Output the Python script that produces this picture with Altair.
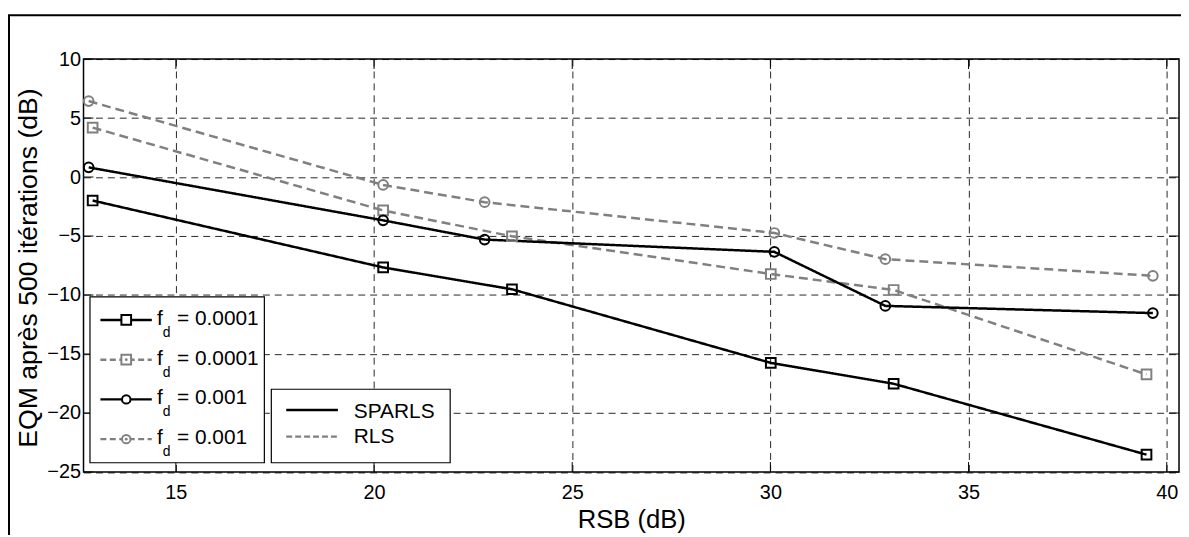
import altair as alt
import pandas as pd

# ---------------- data ----------------
x_circle = [12.80, 20.23, 22.79, 30.10, 32.90, 39.65]
x_square = [12.90, 20.23, 23.48, 30.01, 33.11, 39.49]
sparls_fd0001 = [-1.99, -7.66, -9.51, -15.75, -17.52, -23.53]
rls_fd0001 = [4.19, -2.83, -5.02, -8.22, -9.57, -16.73]
sparls_fd001 = [0.82, -3.67, -5.30, -6.34, -10.92, -11.53]
rls_fd001 = [6.44, -0.67, -2.13, -4.74, -6.96, -8.37]

series_names = ["SPARLS fd=0.0001", "RLS fd=0.0001", "SPARLS fd=0.001", "RLS fd=0.001"]
legend1_labels = ["= 0.0001", "= 0.0001", "= 0.001", "= 0.001"]
legend2_labels = ["SPARLS", "RLS"]
x_ticks = [15, 20, 25, 30, 35, 40]
y_ticks = [-25, -20, -15, -10, -5, 0, 5, 10]

# ---------------- styles ----------------
FONT = "Liberation Sans"
GREY = "#808080"
colors = ["black", GREY, "black", GREY]
dashes = [[1, 0], [9, 5], [1, 0], [9, 5]]
shapes = ["square", "square", "circle", "circle"]
sizes = [95, 95, 72, 72]

W, H = 1102.5, 415.6
PAD_L, PAD_T = 76, 49.7

rows = []
for name, xs, ys in [
    (series_names[0], x_square, sparls_fd0001),
    (series_names[1], x_square, rls_fd0001),
    (series_names[2], x_circle, sparls_fd001),
    (series_names[3], x_circle, rls_fd001),
]:
    for i, (xv, yv) in enumerate(zip(xs, ys)):
        rows.append({"series": name, "x": xv, "y": yv, "i": i})
df = pd.DataFrame(rows)

xscale = alt.Scale(domain=[12.67, 40.31], nice=False, zero=False)
yscale = alt.Scale(domain=[-25, 10], nice=False, zero=False)

color_enc = alt.Color("series:N", scale=alt.Scale(domain=series_names, range=colors), legend=None)
dash_enc = alt.StrokeDash("series:N", scale=alt.Scale(domain=series_names, range=dashes), legend=None)

base = alt.Chart(df)

lines = base.mark_line(strokeWidth=2.5).encode(
    x=alt.X("x:Q", scale=xscale,
            axis=alt.Axis(values=x_ticks, title="RSB (dB)", titleX=W / 2, titleY=56,
                          titleBaseline="alphabetic", titleAlign="center", titleFontSize=25.8,
                          labelPadding=11, format="d")),
    y=alt.Y("y:Q", scale=yscale,
            axis=alt.Axis(values=y_ticks, title="EQM après 500 itérations (dB)",
                          titleAngle=270, titleX=-47, titleY=H / 2 + 2,
                          titleBaseline="alphabetic", titleAlign="center", titleFontSize=26.8,
                          labelPadding=3, format="d")),
    color=color_enc,
    strokeDash=dash_enc,
    detail="series:N",
    order="i:Q",
)

points = base.mark_point(filled=False, strokeWidth=2, opacity=1).encode(
    x=alt.X("x:Q", scale=xscale),
    y=alt.Y("y:Q", scale=yscale),
    color=color_enc,
    shape=alt.Shape("series:N", scale=alt.Scale(domain=series_names, range=shapes), legend=None),
    size=alt.Size("series:N", scale=alt.Scale(domain=series_names, range=sizes), legend=None),
)

# inward ticks on all four sides
xt = pd.DataFrame({"t": x_ticks})
yt = pd.DataFrame({"t": y_ticks})
TL = 10
tick_layers = [
    alt.Chart(xt).mark_rule(color="black", strokeWidth=1).encode(
        x=alt.X("t:Q", scale=xscale), y=alt.value(H), y2=alt.value(H - TL)),
    alt.Chart(xt).mark_rule(color="black", strokeWidth=1).encode(
        x=alt.X("t:Q", scale=xscale), y=alt.value(0), y2=alt.value(TL)),
    alt.Chart(yt).mark_rule(color="black", strokeWidth=1).encode(
        y=alt.Y("t:Q", scale=yscale), x=alt.value(0), x2=alt.value(TL)),
    alt.Chart(yt).mark_rule(color="black", strokeWidth=1).encode(
        y=alt.Y("t:Q", scale=yscale), x=alt.value(W - TL), x2=alt.value(W)),
]

one = pd.DataFrame({"k": [0]})


def rect(x1, x2, y1, y2):
    return alt.Chart(one).mark_rect(fill="white", stroke="black", strokeWidth=1.2).encode(
        x=alt.value(x1), x2=alt.value(x2), y=alt.value(y1), y2=alt.value(y2))


def hline(x1, x2, y, color, width, dash):
    return alt.Chart(one).mark_rule(color=color, strokeWidth=width, strokeDash=dash).encode(
        x=alt.value(x1), x2=alt.value(x2), y=alt.value(y))


def txt(x, y, s, size):
    return alt.Chart(one).mark_text(align="left", baseline="alphabetic", font=FONT,
                                    fontSize=size, color="black").encode(
        x=alt.value(x), y=alt.value(y), text=alt.value(s))


def marker(x, y, shape, color, size, fill):
    return alt.Chart(one).mark_point(shape=shape, filled=False, stroke=color, strokeWidth=2,
                                     fill=fill, fillOpacity=1, size=size, opacity=1).encode(
        x=alt.value(x), y=alt.value(y))


legend_layers = []
# legend 1 (markers + f_d)
legend_layers.append(rect(6.5, 182, 239.3, 406.3))
for k in range(4):
    ry = 262.5 + 40 * k
    legend_layers.append(hline(17, 68.7, ry, colors[k], 2.5, [1, 0] if colors[k] == "black" else [6, 3.5]))
    legend_layers.append(marker(43, ry, shapes[k], colors[k], sizes[k], "white"))
    if colors[k] != "black":
        legend_layers.append(alt.Chart(one).mark_point(shape="circle", filled=True, color=GREY,
                                                       size=8, opacity=1).encode(
            x=alt.value(43), y=alt.value(ry)))
    legend_layers.append(txt(74, ry + 5, "f", 21))
    legend_layers.append(txt(79.8, ry + 17, "d", 14))
    legend_layers.append(txt(94, ry + 5, legend1_labels[k], 21))

# legend 2 (line styles)
legend_layers.append(rect(189, 369, 332.3, 406.3))
legend_layers.append(hline(204, 256, 353.3, "black", 2.5, [1, 0]))
legend_layers.append(hline(204, 256, 380, GREY, 2.2, [6, 3]))
legend_layers.append(txt(272, 361.6, legend2_labels[0], 21))
legend_layers.append(txt(272, 386.3, legend2_labels[1], 21))

# outer figure frame (top and left edges visible in the reference)
frame = [
    hline(-PAD_L, W + 10, -44, "black", 2, [1, 0]),
    alt.Chart(one).mark_rule(color="black", strokeWidth=2).encode(
        x=alt.value(-PAD_L + 1), y=alt.value(-44), y2=alt.value(H + 70)),
]

chart = alt.layer(lines, points, *tick_layers, *legend_layers, *frame).properties(
    width=W, height=H,
    autosize=alt.AutoSizeParams(type="none"),
    padding={"left": PAD_L, "top": PAD_T, "right": 2, "bottom": 62},
    background="white",
).configure_view(
    stroke="black", strokeWidth=1.5
).configure_axis(
    grid=True, gridColor="black", gridDash=[7, 5], gridWidth=1, gridOpacity=0.85,
    domain=False, ticks=False,
    labelFont=FONT, labelFontSize=20, labelColor="black",
    titleFont=FONT, titleFontWeight="normal", titleColor="black",
)

chart.save("out.html", embed_options={"renderer": "svg", "actions": False})
